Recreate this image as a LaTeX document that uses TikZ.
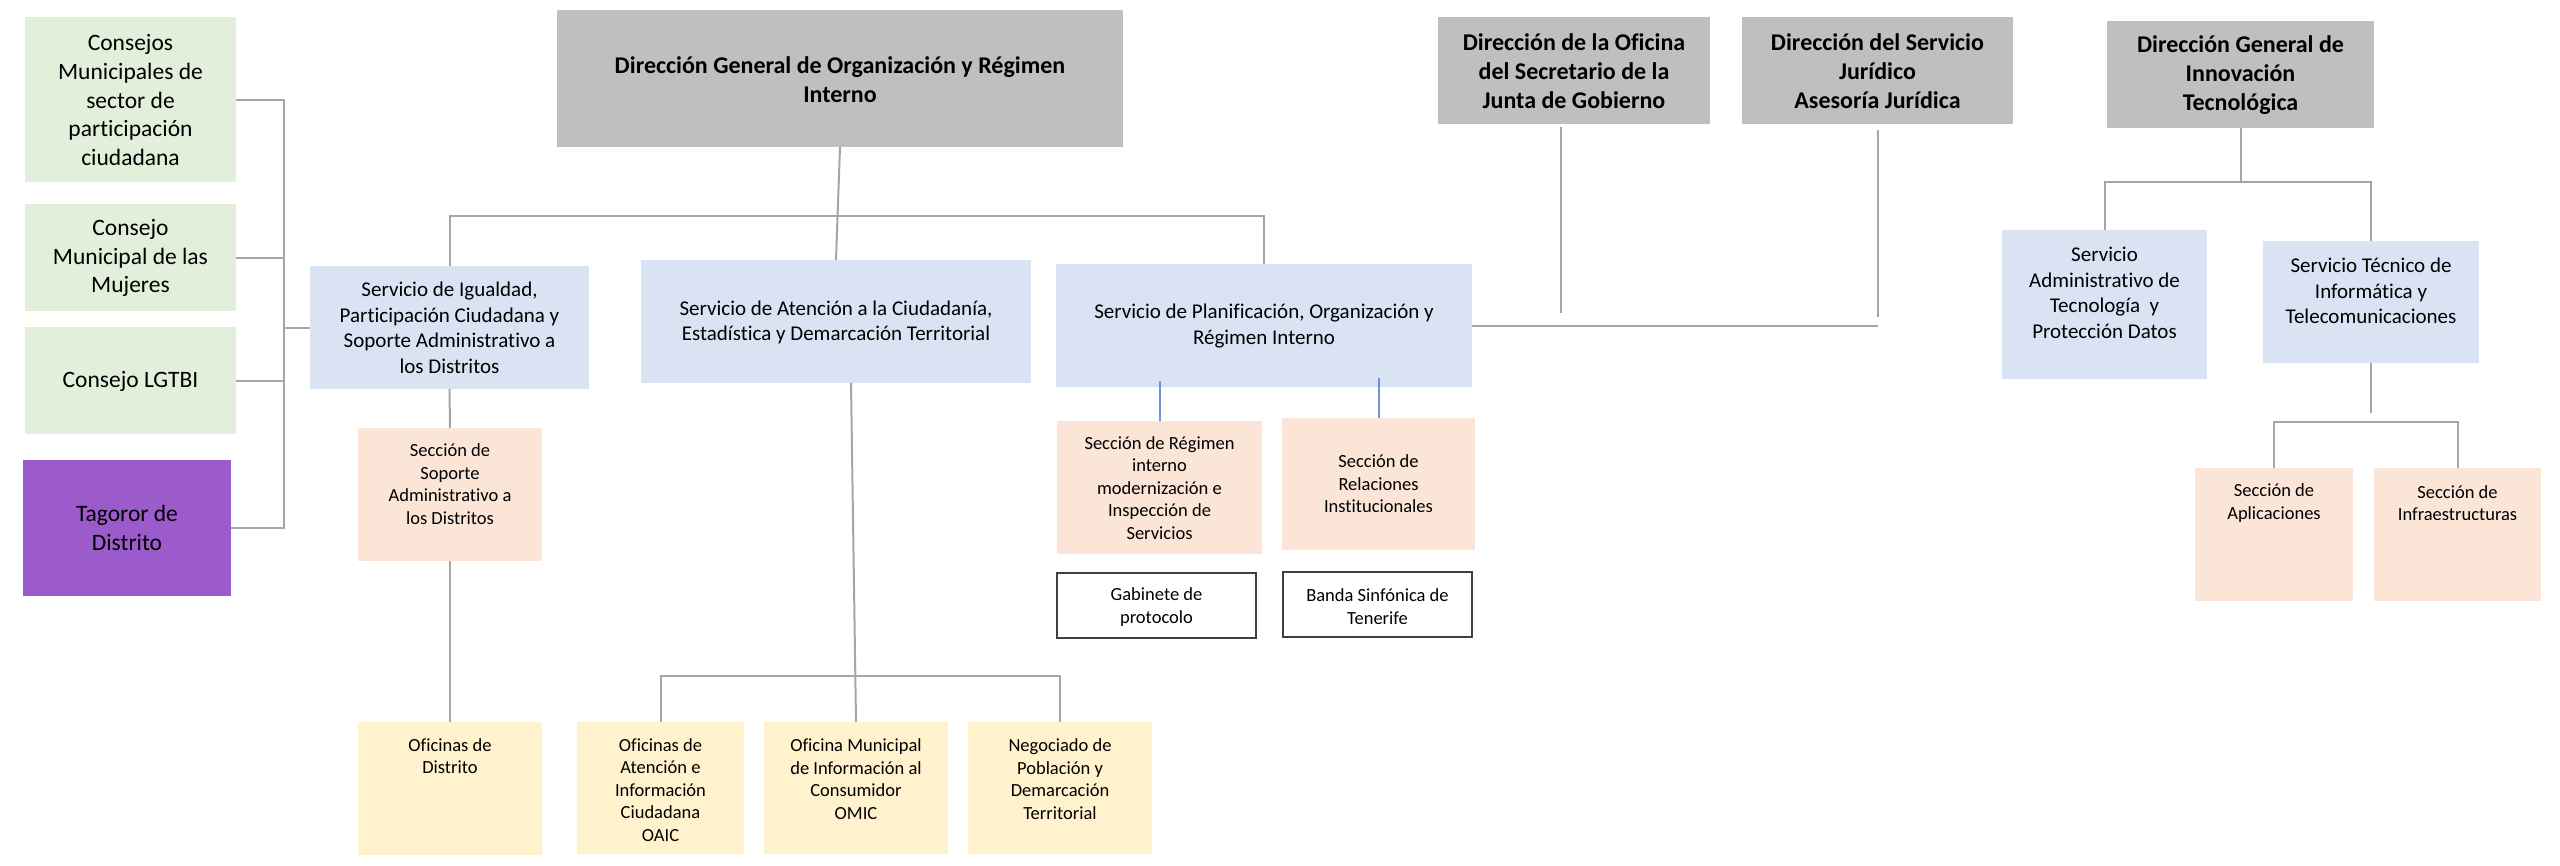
\documentclass[tikz,border=0pt]{standalone}
\usepackage{fontspec}
\setmainfont{Carlito}[Ligatures={NoCommon}]
\usetikzlibrary{calc}
\definecolor{gbox}{HTML}{BFBFBF}
\definecolor{bbox}{HTML}{DAE3F3}
\definecolor{grbox}{HTML}{E2EFDA}
\definecolor{pbox}{HTML}{FBE5D6}
\definecolor{ybox}{HTML}{FFF2CC}
\definecolor{vbox}{HTML}{9B5BCB}
\definecolor{lgray}{HTML}{A6A6A6}
\definecolor{lblue}{HTML}{6F93D6}
\definecolor{dborder}{HTML}{404040}
\newcommand\fdir{\fontsize{24}{29}\selectfont\bfseries}
\newcommand\fgrn{\fontsize{23.5}{28.7}\selectfont}
\newcommand\fsrv{\fontsize{21}{25.5}\selectfont}
\newcommand\fsec{\fontsize{18.5}{22.6}\selectfont}
\newcommand\mkbox[6]{\node[bx,#2,minimum width={#5-#3},minimum height={#6-#4}] (#1) at ({(#3+#5)/2},{(#4+#6)/2}) {};}
\tikzset{
  bx/.style={inner sep=0pt, outer sep=0pt, draw=none},
  txt/.style={align=center, inner sep=0pt, text=black},
  conn/.style={draw=lgray, line width=2pt},
  bconn/.style={draw=lblue, line width=2pt},
  framed/.style={fill=white, draw=dborder, line width=2pt}
}
\begin{document}
\begin{tikzpicture}[x=1pt,y=-1pt]
\useasboundingbox[fill=white] (0,0) rectangle (2560,865);
% boxes
\mkbox{c1}{fill=grbox}{25}{17}{236}{182}
\mkbox{c2}{fill=grbox}{25}{204}{236}{311}
\mkbox{c3}{fill=grbox}{25}{327}{236}{434}
\mkbox{tag}{fill=vbox}{23}{460}{231}{596}
\mkbox{igu}{fill=bbox}{310}{266}{589}{389}
\mkbox{ate}{fill=bbox}{641}{260}{1031}{383}
\mkbox{pla}{fill=bbox}{1056}{264}{1472}{387}
\mkbox{dg}{fill=gbox}{557}{10}{1123}{147}
\mkbox{ofi}{fill=gbox}{1438}{17}{1710}{124}
\mkbox{jur}{fill=gbox}{1742}{17}{2013}{124}
\mkbox{dgi}{fill=gbox}{2107}{21}{2374}{128}
\mkbox{adm}{fill=bbox}{2002}{230}{2207}{379}
\mkbox{tec}{fill=bbox}{2263}{241}{2479}{363}
\mkbox{apl}{fill=pbox}{2195}{468}{2353}{601}
\mkbox{inf}{fill=pbox}{2374}{468}{2541}{601}
\mkbox{sop}{fill=pbox}{358}{428}{542}{561}
\mkbox{ofd}{fill=ybox}{358}{722}{542}{855}
\mkbox{oaic}{fill=ybox}{577}{722}{744}{854}
\mkbox{omic}{fill=ybox}{764}{722}{948}{854}
\mkbox{neg}{fill=ybox}{968}{722}{1152}{854}
\mkbox{reg}{fill=pbox}{1057}{421}{1262}{554}
\mkbox{rel}{fill=pbox}{1282}{418}{1475}{550}
\mkbox{gab}{framed}{1057}{573}{1256}{638}
\mkbox{ban}{framed}{1283}{572}{1472}{637}
% connectors
\coordinate (lbus) at (284,0);
\draw[conn] (c1.east) -- (c1.east -| lbus) -- (tag.east -| lbus) -- (tag.east);
\draw[conn] (c2.east) -- (c2.east -| lbus);
\draw[conn] (c3.east) -- (c3.east -| lbus);
\draw[conn] (igu.west) -- (igu.west -| lbus);
\draw[conn] (dg.south) -- (ate.north);
\draw[conn] (igu.north) -- ++(0,-50) -| (pla.north);
\draw[conn] (igu.south) -- (sop.north);
\draw[conn] (sop.south) -- (ofd.north);
\draw[conn] (oaic.north) -- ++(0,-46) -| (neg.north);
\draw[conn] (omic.north) -- ($(ate.south)+(15,0)$);
\draw[bconn] (reg.north) -- ++(0,-40);
\draw[bconn] (rel.north) -- ++(0,-40);
\draw[conn] (pla.east) -- (pla.east -| jur.south);
\draw[conn] ($(ofi.south)+(-13,3)$) -- ++(0,186);
\draw[conn] ($(jur.south)+(0,6)$) -- ++(0,187);
\draw[conn] (dgi.south) -- ++(0,54);
\draw[conn] (adm.north) -- ++(0,-48) -| (tec.north);
\draw[conn] (tec.south) -- ++(0,50);
\draw[conn] (apl.north) -- ++(0,-46) -| (inf.north);
% texts
\node[txt,font=\fgrn] (c1t) at (130.5,100) {Consejos\\Municipales de\\sector de\\participación\\ciudadana};
\node[txt,font=\fgrn] (c2t) at (130.5,258) {Consejo\\Municipal de las\\Mujeres};
\node[txt,font=\fgrn] (c3t) at (130.5,381) {Consejo LGTBI};
\node[txt,font=\fgrn] (tagt) at (127,528) {Tagoror de\\Distrito};
\node[txt,font=\fsrv] (igut) at (449.5,328) {Servicio de Igualdad,\\Participación Ciudadana y\\Soporte Administrativo a\\los Distritos};
\node[txt,font=\fsrv] (atet) at (836,322.5) {Servicio de Atención a la Ciudadanía,\\Estadística y Demarcación Territorial};
\node[txt,font=\fsrv] (plat) at (1264,326) {Servicio de Planificación, Organización y\\Régimen Interno};
\node[txt,font=\fdir] (dgt) at (840,80) {Dirección General de Organización y Régimen\\Interno};
\node[txt,font=\fdir] (ofit) at (1574,71) {Dirección de la Oficina\\del Secretario de la\\Junta de Gobierno};
\node[txt,font=\fdir] (jurt) at (1877.5,71) {Dirección del Servicio\\Jurídico\\Asesoría Jurídica};
\node[txt,font=\fdir] (dgit) at (2240.5,75) {Dirección General de\\Innovación\\Tecnológica};
\node[txt,font=\fsrv] (admt) at (2104.5,293) {Servicio\\Administrativo de\\Tecnología\ \ y\\Protección Datos};
\node[txt,font=\fsrv] (tect) at (2371,291) {Servicio Técnico de\\Informática y\\Telecomunicaciones};
\node[txt,font=\fsec] (aplt) at (2274,503) {Sección de\\Aplicaciones};
\node[txt,font=\fsec] (inft) at (2457.5,503) {Sección de\\Infraestructuras};
\node[txt,font=\fsec] (sopt) at (450,484) {Sección de\\Soporte\\Administrativo a\\los Distritos};
\node[txt,font=\fsec] (ofdt) at (450,756) {Oficinas de\\Distrito};
\node[txt,font=\fsec] (oaict) at (660.5,790) {Oficinas de\\Atención e\\Información\\Ciudadana\\OAIC};
\node[txt,font=\fsec] (omict) at (856,779) {Oficina Municipal\\de Información al\\Consumidor\\OMIC};
\node[txt,font=\fsec] (negt) at (1060,779) {Negociado de\\Población y\\Demarcación\\Territorial};
\node[txt,font=\fsec] (regt) at (1159.5,488) {Sección de Régimen\\interno\\modernización e\\Inspección de\\Servicios};
\node[txt,font=\fsec] (relt) at (1378.5,484) {Sección de\\Relaciones\\Institucionales};
\node[txt,font=\fsec] (gabt) at (1156.5,607) {Gabinete de\\protocolo};
\node[txt,font=\fsec] (bant) at (1377.5,606.5) {Banda Sinfónica de\\Tenerife};
\end{tikzpicture}
\end{document}
